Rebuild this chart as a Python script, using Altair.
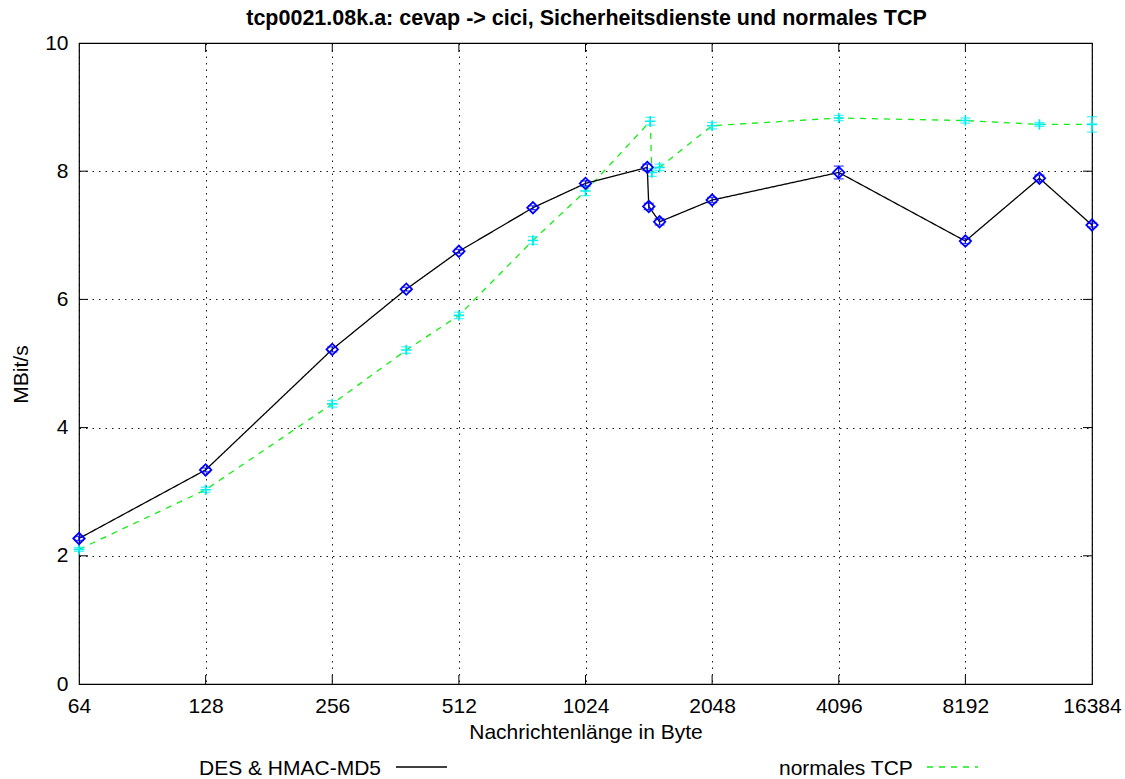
import altair as alt
import pandas as pd

# ---- data ----
sizes_des = [64, 128, 256, 384, 512, 768, 1024, 1436, 1448, 1536, 2048, 4096, 8192, 12288, 16384]
mbit_des = [2.27, 3.34, 5.22, 6.16, 6.75, 7.43, 7.81, 8.06, 7.45, 7.21, 7.55, 7.98, 6.91, 7.89, 7.16]
err_des = [0.03, 0.03, 0.04, 0.03, 0.03, 0.03, 0.04, 0.05, 0.05, 0.05, 0.04, 0.10, 0.04, 0.05, 0.03]

sizes_tcp = [64, 128, 256, 384, 512, 768, 1024, 1460, 1472, 1536, 2048, 4096, 8192, 12288, 16384]
mbit_tcp = [2.10, 3.03, 4.37, 5.21, 5.75, 6.92, 7.69, 8.78, 7.98, 8.06, 8.71, 8.83, 8.79, 8.73, 8.73]
err_tcp = [0.03, 0.04, 0.05, 0.05, 0.05, 0.06, 0.07, 0.06, 0.06, 0.05, 0.05, 0.04, 0.04, 0.03, 0.12]

x_ticks = [64, 128, 256, 512, 1024, 2048, 4096, 8192, 16384]
y_ticks = [0, 2, 4, 6, 8, 10]
inner_x_ticks = [128, 256, 512, 1024, 2048, 4096, 8192]
inner_y_ticks = [2, 4, 6, 8]

title_text = "tcp0021.08k.a: cevap -> cici, Sicherheitsdienste und normales TCP"
x_title = "Nachrichtenlänge in Byte"
y_title = "MBit/s"
legend_labels = ["DES & HMAC-MD5", "normales TCP"]

W, H = 1013, 641
FONT = "Liberation Sans"
FS = 21

des = pd.DataFrame({"size": sizes_des, "mbit": mbit_des,
                    "lo": [m - e for m, e in zip(mbit_des, err_des)],
                    "hi": [m + e for m, e in zip(mbit_des, err_des)]})
tcp = pd.DataFrame({"size": sizes_tcp, "mbit": mbit_tcp,
                    "lo": [m - e for m, e in zip(mbit_tcp, err_tcp)],
                    "hi": [m + e for m, e in zip(mbit_tcp, err_tcp)]})

xscale = alt.Scale(type="log", base=2, domain=[64, 16384], nice=False)
yscale = alt.Scale(domain=[0, 10], nice=False)

xaxis = alt.Axis(values=x_ticks, format="d", title=x_title, grid=True,
                 gridDash=[1.5, 5], gridColor="#000000", gridOpacity=0.9,
                 tickSize=0, domain=False, labelPadding=11,
                 labelFont=FONT, labelFontSize=FS, labelColor="#000000",
                 titleFont=FONT, titleFontSize=FS, titleFontWeight="normal",
                 titleColor="#000000", titleY=54, titleBaseline="alphabetic",
                 labelFlush=False)
yaxis = alt.Axis(values=y_ticks, format="d", title=y_title, grid=True,
                 gridDash=[1.5, 5], gridColor="#000000", gridOpacity=0.9,
                 tickSize=0, domain=False, labelPadding=11,
                 labelFont=FONT, labelFontSize=FS, labelColor="#000000",
                 titleFont=FONT, titleFontSize=FS, titleFontWeight="normal",
                 titleColor="#000000", titleX=-58, titleY=331, titleAngle=270,
                 titleAlign="center", titleBaseline="middle")

X = alt.X("size:Q", scale=xscale, axis=xaxis)
Xn = alt.X("size:Q", scale=xscale)
Y = alt.Y("mbit:Q", scale=yscale, axis=yaxis)
Yn = alt.Y("mbit:Q", scale=yscale)
Ylo = alt.Y("lo:Q", scale=yscale)
Yhi = alt.Y("hi:Q", scale=yscale)

base_axes = alt.Chart(des).mark_point(opacity=0).encode(x=X, y=Y)

BLUE = "#0000ff"
CYAN = "#00eeee"
GREEN = "#11ee11"

plus_path = "M-1,0L1,0M0,-1L0,1"

def series(df, line_color, dash, marker_color, shape, msize, mwidth):
    line = alt.Chart(df).mark_line(color=line_color, strokeWidth=1.3,
                                   strokeDash=dash).encode(x=Xn, y=Yn)
    bar = alt.Chart(df).mark_rule(color=marker_color, strokeWidth=1.3).encode(
        x=Xn, y=Ylo, y2="hi:Q")
    cap_lo = alt.Chart(df).mark_tick(color=marker_color, orient="horizontal",
                                     size=10, thickness=1.3).encode(x=Xn, y=Ylo)
    cap_hi = alt.Chart(df).mark_tick(color=marker_color, orient="horizontal",
                                     size=10, thickness=1.3).encode(x=Xn, y=Yhi)
    pts = alt.Chart(df).mark_point(shape=shape, size=msize, filled=False,
                                   color=marker_color, strokeWidth=mwidth,
                                   opacity=1).encode(x=Xn, y=Yn)
    return [line, bar, cap_lo, cap_hi, pts]

layers_tcp = series(tcp, GREEN, [6, 6], CYAN, plus_path, 110, 1.6)
layers_des = series(des, "#000000", [1, 0], BLUE, "diamond", 130, 1.8)

# inward border ticks (gnuplot style)
xt = pd.DataFrame({"size": inner_x_ticks})
yt = pd.DataFrame({"mbit": inner_y_ticks})
tick_bottom = alt.Chart(xt).mark_rule(color="#000000").encode(
    x=Xn, y=alt.value(H), y2=alt.value(H - 9))
tick_top = alt.Chart(xt).mark_rule(color="#000000").encode(
    x=Xn, y=alt.value(0), y2=alt.value(9))
tick_left = alt.Chart(yt).mark_rule(color="#000000").encode(
    y=Yn, x=alt.value(0), x2=alt.value(9))
tick_right = alt.Chart(yt).mark_rule(color="#000000").encode(
    y=Yn, x=alt.value(W), x2=alt.value(W - 9))

# chart title as a text mark above the plot area
title_mark = alt.Chart(pd.DataFrame({"t": [title_text]})).mark_text(
    font=FONT, fontSize=21.5, fontWeight="bold", align="center",
    baseline="alphabetic", color="#000000").encode(
    text="t:N", x=alt.value(W / 2 + 1), y=alt.value(-18))

# legend below the axis title
leg_text1 = alt.Chart(pd.DataFrame({"label": [legend_labels[0]]})).mark_text(
    font=FONT, fontSize=FS, align="left", baseline="alphabetic", color="#000000").encode(
    text="label:N", x=alt.value(120), y=alt.value(732))
leg_line1 = alt.Chart(pd.DataFrame({"label": [legend_labels[0]]})).mark_rule(
    color="#000000", strokeWidth=1.3).encode(
    x=alt.value(317), x2=alt.value(368), y=alt.value(724))
leg_text2 = alt.Chart(pd.DataFrame({"label": [legend_labels[1]]})).mark_text(
    font=FONT, fontSize=FS, align="left", baseline="alphabetic", color="#000000").encode(
    text="label:N", x=alt.value(700), y=alt.value(732))
leg_line2 = alt.Chart(pd.DataFrame({"label": [legend_labels[1]]})).mark_rule(
    color=GREEN, strokeWidth=1.3, strokeDash=[6, 6]).encode(
    x=alt.value(848), x2=alt.value(899), y=alt.value(724))

chart = alt.layer(
    base_axes, tick_bottom, tick_top, tick_left, tick_right,
    *layers_tcp, *layers_des,
    title_mark, leg_text1, leg_line1, leg_text2, leg_line2,
).properties(
    width=W, height=H,
    autosize=alt.AutoSizeParams(type="none"),
    padding={"left": 79, "top": 43, "right": 33, "bottom": 95},
    background="white",
).configure_view(stroke="#000000", strokeWidth=1.2)

chart.save("out.html", embed_options={"renderer": "svg", "actions": False})
